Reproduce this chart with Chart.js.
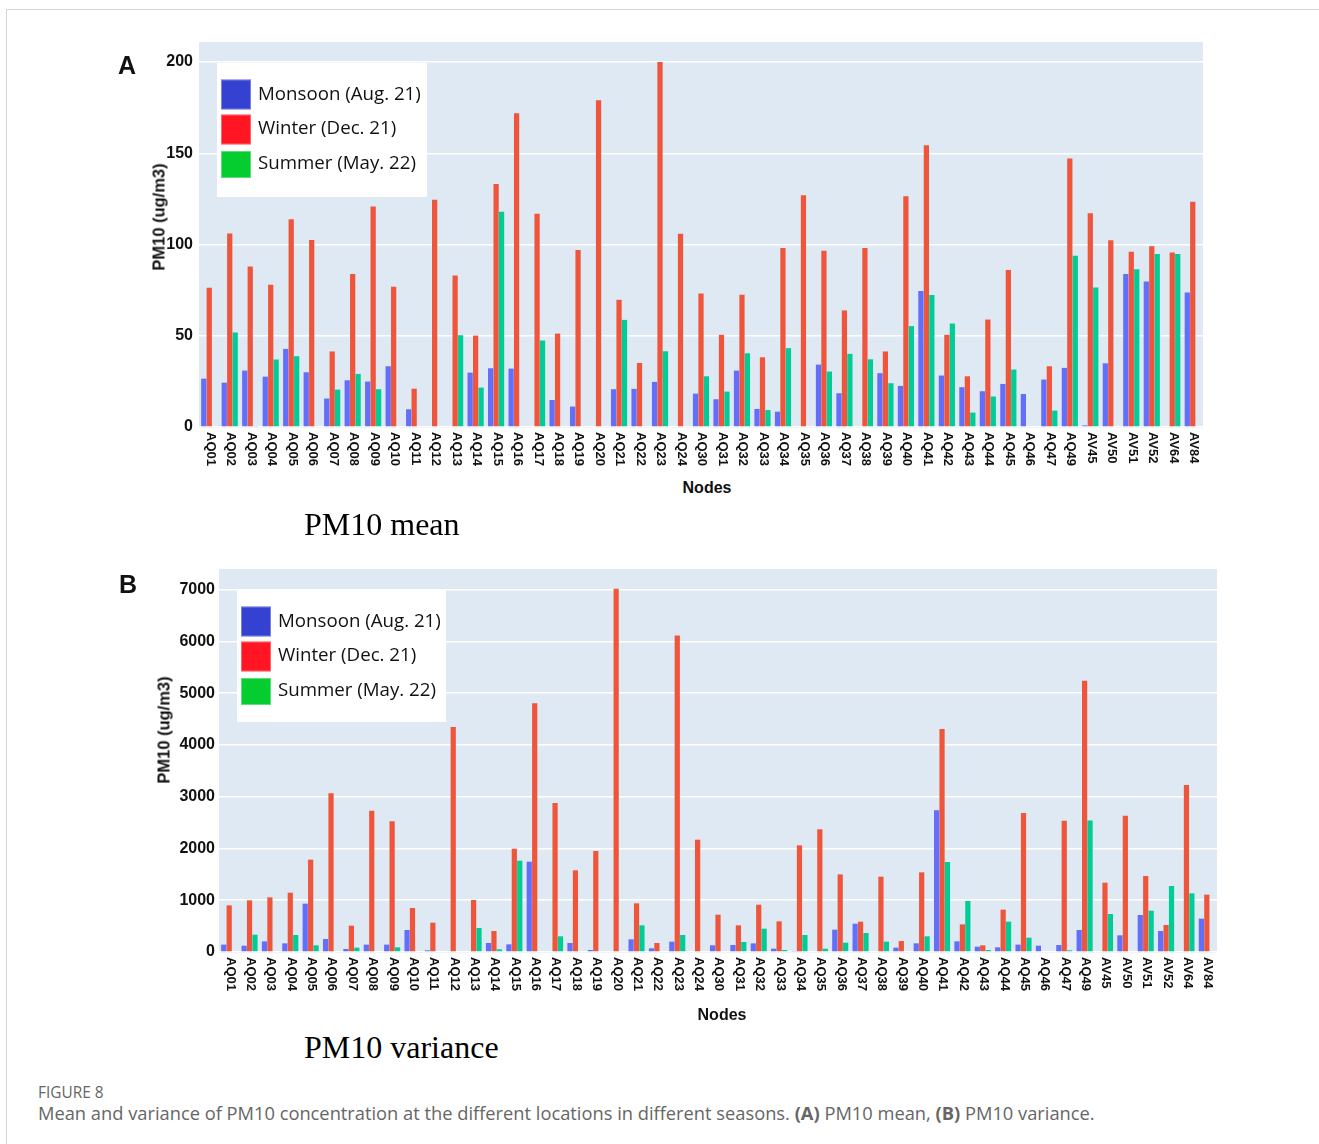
<!DOCTYPE html>
<html><head><meta charset="utf-8">
<script src="https://cdn.jsdelivr.net/npm/chart.js@4.4.0/dist/chart.umd.min.js"></script>
<style>
html,body{margin:0;padding:0;background:#fff;}
#page{position:relative;width:1319px;height:1144px;overflow:hidden;background:#fff;}
.frame{position:absolute;left:6px;top:9px;width:1400px;height:1300px;border:1.5px solid #d4d4d4;box-sizing:border-box;}
canvas{position:absolute;left:0;}
.t{position:absolute;white-space:nowrap;line-height:1;}
.c{transform:translate(-50%,-50%);}
.panel{font:bold 25px 'Liberation Sans',Arial,sans-serif;color:#111;}
.ytitle{font:bold 16.5px 'Liberation Sans',Arial,sans-serif;color:#111;transform:translate(-50%,-50%) rotate(-90deg);}
.xtitle{font:bold 16px 'Liberation Sans',Arial,sans-serif;color:#111;}
.sub{font:32px 'Liberation Serif','Times New Roman',serif;color:#000;transform:translateY(-50%);}
.figno{font:15.4px 'Open Sans',sans-serif;color:#666;transform:translateY(-50%);}
.cap{font:18.3px 'Open Sans',sans-serif;color:#666;transform:translateY(-50%);}
.cap b{font-weight:700;}
</style></head>
<body>
<div id="page">
  <div class="frame"></div>
  <canvas id="cA" width="1319" height="470" style="top:0px"></canvas>
  <canvas id="cB" width="1319" height="480" style="top:540px"></canvas>
  <div class="t panel" style="left:118px;top:51px;">A</div>
  <div class="t panel" style="left:119px;top:570px;">B</div>
  <div class="t ytitle" style="left:158.5px;top:217px;">PM10 (ug/m3)</div>
  <div class="t ytitle" style="left:164px;top:730px;">PM10 (ug/m3)</div>
  <div class="t xtitle c" style="left:707px;top:488px;">Nodes</div>
  <div class="t xtitle c" style="left:722px;top:1015px;">Nodes</div>
  <div class="t sub" style="left:304px;top:523.5px;">PM10 mean</div>
  <div class="t sub" style="left:304px;top:1047px;">PM10 variance</div>
  <div class="t figno" style="left:38px;top:1092px;">FIGURE 8</div>
  <div class="t cap" style="left:38px;top:1112px;">Mean and variance of PM10 concentration at the different locations in different seasons. <b>(A)</b> PM10 mean, <b>(B)</b> PM10 variance.</div>
</div>
<script>
// ---------- data ----------
const nodes = ['AQ01','AQ02','AQ03','AQ04','AQ05','AQ06','AQ07','AQ08','AQ09','AQ10','AQ11','AQ12','AQ13','AQ14','AQ15',
  'AQ16','AQ17','AQ18','AQ19','AQ20','AQ21','AQ22','AQ23','AQ24',
  'AQ30','AQ31','AQ32','AQ33','AQ34','AQ35','AQ36','AQ37',
  'AQ38','AQ39','AQ40','AQ41','AQ42','AQ43','AQ44','AQ45','AQ46','AQ47','AQ49',
  'AV45','AV50','AV51','AV52','AV64','AV84'];
const seriesNames = ['Monsoon (Aug. 21)','Winter (Dec. 21)','Summer (May. 22)'];

const meanMonsoon = [26.5,24.3,30.9,27.6,42.8,30,15.6,25.6,24.9,33.3,9.7,null,null,29.8,32.2,
  32,null,14.8,11.2,null,20.7,20.9,24.7,null,
  18.3,15.2,30.9,9.9,8.4,null,34.2,18.5,
  null,29.5,22.5,74.5,28.2,21.8,19.6,23.6,18.1,26,32.4,
  0.9,34.9,83.8,79.8,null,73.7];
const meanWinter = [76.3,106.1,88,78,113.8,102.5,41.4,83.8,120.8,76.9,21,124.6,83,50.1,133.2,
  172,116.9,51.2,97,179.1,69.7,35.1,200,105.9,
  73.2,50.5,72.5,38.2,98.1,127,96.6,63.9,
  98.1,41.4,126.4,154.4,50.5,27.8,58.9,86,null,33.3,147.1,
  117.1,102.3,96.1,99,95.7,123.5];
const meanSummer = [null,51.8,0.5,37,38.8,null,20.5,29.1,20.7,null,null,null,50.3,21.6,118,
  0.4,47.4,null,null,null,58.7,null,41.5,null,
  27.8,19.4,40.4,9.3,43.2,null,30.4,40.1,
  37.1,24,55.3,72.3,56.7,7.9,16.7,31.5,null,9,93.9,
  76.5,null,86.5,94.8,94.8,null];

const varMonsoon = [142,122,206,167,934,251,58,142,142,425,32,null,null,174,148,
  1745,null,174,39,null,245,71,200,null,
  129,135,167,64,19,null,431,547,
  null,84,167,2737,206,103,90,142,122,135,425,
  null,322,715,406,null,644];
const varWinter = [901,998,1056,1146,1784,3065,509,2730,2524,850,567,4346,1005,406,1996,
  4804,2878,1578,1951,7020,940,174,6117,2170,
  721,515,914,592,2061,2370,1500,586,
  1455,212,1539,4308,534,129,818,2685,null,2537,5241,
  1339,2634,1468,522,3226,1108];
const varSummer = [null,335,null,328,129,null,84,null,90,null,null,null,464,52,1764,
  null,303,null,null,null,515,null,328,null,
  null,193,451,39,328,64,180,367,
  200,null,303,1739,985,39,586,277,null,32,2543,
  734,null,798,1275,1133,null];

const meanTicks = [0,50,100,150,200];
const varTicks = [0,1000,2000,3000,4000,5000,6000,7000];

// ---------- styles ----------
const barColors = ['#636efa','#ef553b','#00cc96'];
const legendColors = ['#3541d0','#ff1622','#05cd30'];
const PLOT_BG = '#dfe9f3';

const plotBg = {id:'plotBg', beforeDraw(chart){
  const {ctx, chartArea:a} = chart;
  ctx.save(); ctx.fillStyle = PLOT_BG;
  ctx.fillRect(a.left, a.top, a.right-a.left, a.bottom-a.top + 1);
  ctx.restore();
}};
const xLabels = {id:'xLabels', afterDraw(chart){
  const {ctx, chartArea:a} = chart; const xs = chart.scales.x;
  ctx.save();
  ctx.fillStyle = '#111'; ctx.font = "bold 13px 'Liberation Sans', Arial, sans-serif";
  chart.data.labels.forEach((lab,i)=>{
    ctx.save();
    ctx.translate(xs.getPixelForValue(i)+1, a.bottom+5);
    ctx.rotate(Math.PI/2);
    ctx.textAlign='left'; ctx.textBaseline='middle';
    ctx.fillText(lab,0,0);
    ctx.restore();
  });
  ctx.restore();
}};
const boxLegend = {id:'boxLegend', afterDraw(chart, args, o){
  const {ctx, chartArea:a} = chart;
  const bx = a.left + o.dx, by = a.top + o.dy;
  ctx.save();
  ctx.fillStyle = '#ffffff';
  ctx.fillRect(bx, by, o.w, o.h);
  const sqTop = [16.5, 51.5, 88], sqH = [30, 30, 27], txtY = [31.5, 65.5, 101];
  chart.data.datasets.forEach((ds,i)=>{
    ctx.fillStyle = legendColors[i];
    ctx.fillRect(bx+4, by+sqTop[i], 30, sqH[i]);
    ctx.strokeStyle = 'rgba(255,255,255,0.35)'; ctx.lineWidth = 1;
    ctx.strokeRect(bx+4.5, by+sqTop[i]+0.5, 29, sqH[i]-1);
    ctx.fillStyle = '#111';
    ctx.font = "18.7px 'Open Sans', sans-serif";
    ctx.textAlign='left'; ctx.textBaseline='middle';
    ctx.fillText(ds.label, bx+41, by+txtY[i]);
  });
  ctx.restore();
}};

function makeChart(id, data, yMax, ticksList, area, canvasH, yW, tickPad, leg){
  const datasets = data.map((d,i)=>({label:seriesNames[i], data:d, backgroundColor:barColors[i],
    categoryPercentage:0.8, barPercentage:0.96, borderWidth:0}));
  return new Chart(document.getElementById(id), {
    type:'bar',
    data:{labels:nodes, datasets},
    plugins:[plotBg, xLabels, boxLegend],
    options:{
      responsive:false, animation:false, devicePixelRatio:1,
      layout:{padding:{left:area.left-yW, top:area.top, right:1319-area.right, bottom:canvasH-area.bottom}},
      plugins:{legend:{display:false}, tooltip:{enabled:false}, boxLegend:leg},
      scales:{
        x:{type:'category', offset:true, ticks:{display:false}, grid:{display:false}, border:{display:false},
           afterFit(s){s.height=0;}},
        y:{min:0, max:yMax, ticks:{stepSize:ticksList[1]-ticksList[0], padding:tickPad, color:'#111',
             callback:(v)=>String(v),
             font:{family:"'Liberation Sans', Arial, sans-serif", size:16, weight:'bold'}},
           afterBuildTicks(s){ s.ticks = ticksList.map(v=>({value:v})); },
           grid:{color:'#ffffff', lineWidth:1.5, drawTicks:false}, border:{display:false},
           afterFit(s){s.width=yW;}}
      }
    }
  });
}

makeChart('cA', [meanMonsoon, meanWinter, meanSummer], 211, meanTicks,
  {left:199, top:42, right:1203, bottom:427}, 470, 50, 6, {dx:18, dy:21, w:210, h:134});
makeChart('cB', [varMonsoon, varWinter, varSummer], 7400, varTicks,
  {left:219, top:29, right:1217, bottom:412}, 480, 60, 4, {dx:18, dy:21, w:209, h:132});
</script>
</body></html>
